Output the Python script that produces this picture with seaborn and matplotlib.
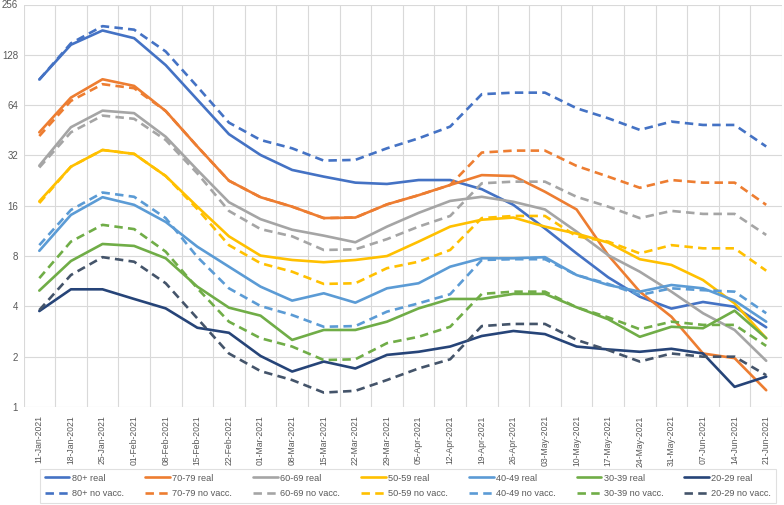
import matplotlib
matplotlib.use("Agg")
import matplotlib.pyplot as plt
from matplotlib import font_manager
from matplotlib.lines import Line2D
from matplotlib.ticker import FixedLocator, NullFormatter
import seaborn as sns
import pandas as pd
import numpy as np

dates = ["11-Jan-2021", "18-Jan-2021", "25-Jan-2021", "01-Feb-2021", "08-Feb-2021",
         "15-Feb-2021", "22-Feb-2021", "01-Mar-2021", "08-Mar-2021", "15-Mar-2021",
         "22-Mar-2021", "29-Mar-2021", "05-Apr-2021", "12-Apr-2021", "19-Apr-2021",
         "26-Apr-2021", "03-May-2021", "10-May-2021", "17-May-2021", "24-May-2021",
         "31-May-2021", "07-Jun-2021", "14-Jun-2021", "21-Jun-2021"]

groups = ["80+", "70-79", "60-69", "50-59", "40-49", "30-39", "20-29"]

real_80 = [91, 147, 179, 161, 111, 69, 42.9, 32.2, 26.2, 23.9, 22.0, 21.6,
           22.8, 22.8, 20.1, 16.2, 11.7, 8.3, 5.97, 4.57, 3.88, 4.25, 3.98, 3.0]
novac_80 = [91, 150, 190, 181, 134, 82.6, 50.3, 39.6, 35.3, 29.8, 30.1, 35.3,
            40.5, 47.6, 74.4, 76, 76, 61.3, 53.4, 45.5, 51, 48.7, 48.7, 36.2]
real_70 = [44, 71, 91.4, 83.4, 59, 36.2, 22.6, 18.0, 15.8, 13.5, 13.6, 16.3,
           18.5, 21.3, 24.4, 24.1, 19.4, 15.2, 8.1, 4.9, 3.47, 2.09, 1.96, 1.26]
novac_70 = [41.8, 67.8, 85.4, 80.8, 59, 36.2, 22.6, 18.0, 15.8, 13.5, 13.6, 16.3,
            18.5, 21.3, 33.3, 34.2, 34.2, 27.7, 23.9, 20.5, 22.8, 22.0, 22.0, 16.2]
real_60 = [27.8, 47.2, 59.3, 57.3, 41.4, 26.2, 16.8, 13.3, 11.5, 10.6, 9.67, 12.0,
           14.5, 17.1, 18.1, 16.9, 15.2, 11.2, 8.1, 6.45, 4.9, 3.64, 2.89, 1.89]
novac_60 = [27.1, 44, 55.4, 53.0, 39.6, 25.0, 14.9, 11.6, 10.5, 8.7, 8.78, 10.1,
            12.0, 13.9, 21.8, 22.3, 22.3, 18.1, 15.8, 13.5, 14.9, 14.3, 14.3, 10.7]
real_50 = [17.0, 27.4, 34.5, 32.7, 24.1, 15.8, 10.5, 8.05, 7.58, 7.35, 7.58, 8.0,
           9.76, 12.0, 13.2, 13.6, 12.0, 10.9, 9.63, 7.66, 7.08, 5.75, 4.17, 2.58]
novac_50 = [16.6, 27.4, 34.5, 32.7, 24.1, 15.3, 9.3, 7.25, 6.45, 5.45, 5.5, 6.77,
            7.4, 8.7, 13.5, 13.9, 13.9, 10.5, 9.76, 8.3, 9.3, 8.9, 8.9, 6.54]
real_40 = [8.6, 14.1, 18.0, 16.2, 12.8, 9.1, 6.91, 5.25, 4.33, 4.79, 4.21, 5.13,
           5.5, 6.91, 7.76, 7.76, 7.88, 6.16, 5.37, 4.9, 5.37, 5.13, 4.33, 3.24]
novac_40 = [9.3, 15.1, 19.2, 18.1, 13.5, 7.9, 5.13, 4.02, 3.55, 3.02, 3.05, 3.72,
            4.17, 4.73, 7.58, 7.66, 7.66, 6.16, 5.45, 4.68, 5.13, 5.0, 4.9, 3.64]
real_30 = [4.97, 7.47, 9.45, 9.2, 7.76, 5.25, 3.93, 3.52, 2.52, 2.89, 2.89, 3.24,
           3.89, 4.43, 4.43, 4.75, 4.75, 3.95, 3.35, 2.63, 3.02, 2.96, 3.77, 2.58]
novac_30 = [5.9, 9.76, 12.3, 11.6, 8.5, 5.13, 3.24, 2.58, 2.30, 1.91, 1.93, 2.41,
            2.63, 3.02, 4.75, 4.9, 4.9, 3.95, 3.44, 2.92, 3.24, 3.10, 3.10, 2.32]
real_20 = [3.75, 5.06, 5.06, 4.43, 3.89, 2.98, 2.78, 2.02, 1.63, 1.87, 1.70, 2.05,
           2.14, 2.30, 2.66, 2.85, 2.73, 2.30, 2.21, 2.14, 2.23, 2.09, 1.32, 1.52]
novac_20 = [3.8, 6.16, 7.88, 7.4, 5.5, 3.39, 2.09, 1.64, 1.45, 1.22, 1.25, 1.45,
            1.70, 1.93, 3.05, 3.14, 3.14, 2.52, 2.19, 1.87, 2.09, 2.0, 2.0, 1.55]

real_series = [real_80, real_70, real_60, real_50, real_40, real_30, real_20]
novac_series = [novac_80, novac_70, novac_60, novac_50, novac_40, novac_30, novac_20]

real_colors = ["#4472C4", "#ED7D31", "#A5A5A5", "#FFC000", "#5B9BD5", "#70AD47", "#264478"]
novac_colors = ["#4472C4", "#ED7D31", "#A5A5A5", "#FFC000", "#5B9BD5", "#70AD47", "#44546A"]

yticks = [1, 2, 4, 8, 16, 32, 64, 128, 256]

sns.set_theme(style="white")
installed = {f.name for f in font_manager.fontManager.ttflist}
if "Liberation Sans Narrow" in installed:
    fam = ["Liberation Sans Narrow", "DejaVu Sans"]
    xfs, yfs, lfs = 7.2, 7.5, 7.6
else:
    fam = ["Liberation Sans", "DejaVu Sans"]
    xfs, yfs, lfs = 6.2, 7.0, 6.6
plt.rcParams["font.family"] = fam

fig = plt.figure(figsize=(7.84, 5.05), dpi=100)
ax = fig.add_axes([23.5 / 784, 1 - 407 / 505, 758.5 / 784, (407 - 4.5) / 505])

lw = 1.9
dash = (3.2, 2.0)
for g, vals, col in zip(groups, real_series, real_colors):
    df = pd.DataFrame({"date": dates, "value": vals})
    sns.lineplot(data=df, x="date", y="value", ax=ax, color=col, linewidth=lw,
                 sort=False, legend=False)
for g, vals, col in zip(groups, novac_series, novac_colors):
    df = pd.DataFrame({"date": dates, "value": vals})
    sns.lineplot(data=df, x="date", y="value", ax=ax, color=col, linewidth=lw,
                 sort=False, legend=False)
    ax.lines[-1].set_dashes(dash)

ax.set_yscale("log", base=2)
ax.set_ylim(1, 256)
ax.set_xlim(-0.5, len(dates) - 0.5)
ax.yaxis.set_major_locator(FixedLocator(yticks))
ax.yaxis.set_minor_locator(FixedLocator([]))
ax.set_yticklabels([str(t) for t in yticks])
ax.set_xticks(range(len(dates)))
ax.set_xticklabels(dates, rotation=90)
ax.xaxis.set_minor_locator(FixedLocator(np.arange(-0.5, len(dates), 1.0)))
ax.xaxis.set_minor_formatter(NullFormatter())

ax.grid(True, which="major", axis="y", color="#D9D9D9", linewidth=0.8)
ax.grid(True, which="minor", axis="x", color="#D9D9D9", linewidth=0.8)
ax.grid(False, which="major", axis="x")
ax.set_axisbelow(True)
for s in ax.spines.values():
    s.set_visible(False)
ax.tick_params(axis="both", which="both", length=0, colors="#595959")
ax.tick_params(axis="x", labelsize=xfs, pad=6)
ax.tick_params(axis="y", labelsize=yfs, pad=4)
ax.set_xlabel("")
ax.set_ylabel("")

leg_handles = []
for g, col in zip(groups, real_colors):
    leg_handles.append(Line2D([], [], color=col, linewidth=lw, label=f"{g} real"))
leg_handles_nv = []
for g, col in zip(groups, novac_colors):
    h = Line2D([], [], color=col, linewidth=lw, label=f"{g} no vacc.")
    h.set_dashes(dash)
    leg_handles_nv.append(h)
ordered = []
for a, b in zip(leg_handles, leg_handles_nv):
    ordered += [a, b]
leg = fig.legend(handles=ordered, loc="center", bbox_to_anchor=(408 / 784, 1 - 486 / 505),
                 ncol=7, frameon=True, fontsize=lfs, handlelength=2.7, columnspacing=2.3,
                 handletextpad=0.25, borderpad=0.5, labelspacing=0.75, fancybox=False,
                 borderaxespad=0)
leg.get_frame().set_edgecolor("#D9D9D9")
leg.get_frame().set_linewidth(0.8)
for t in leg.get_texts():
    t.set_color("#595959")

fig.savefig("out.png", dpi=100)
